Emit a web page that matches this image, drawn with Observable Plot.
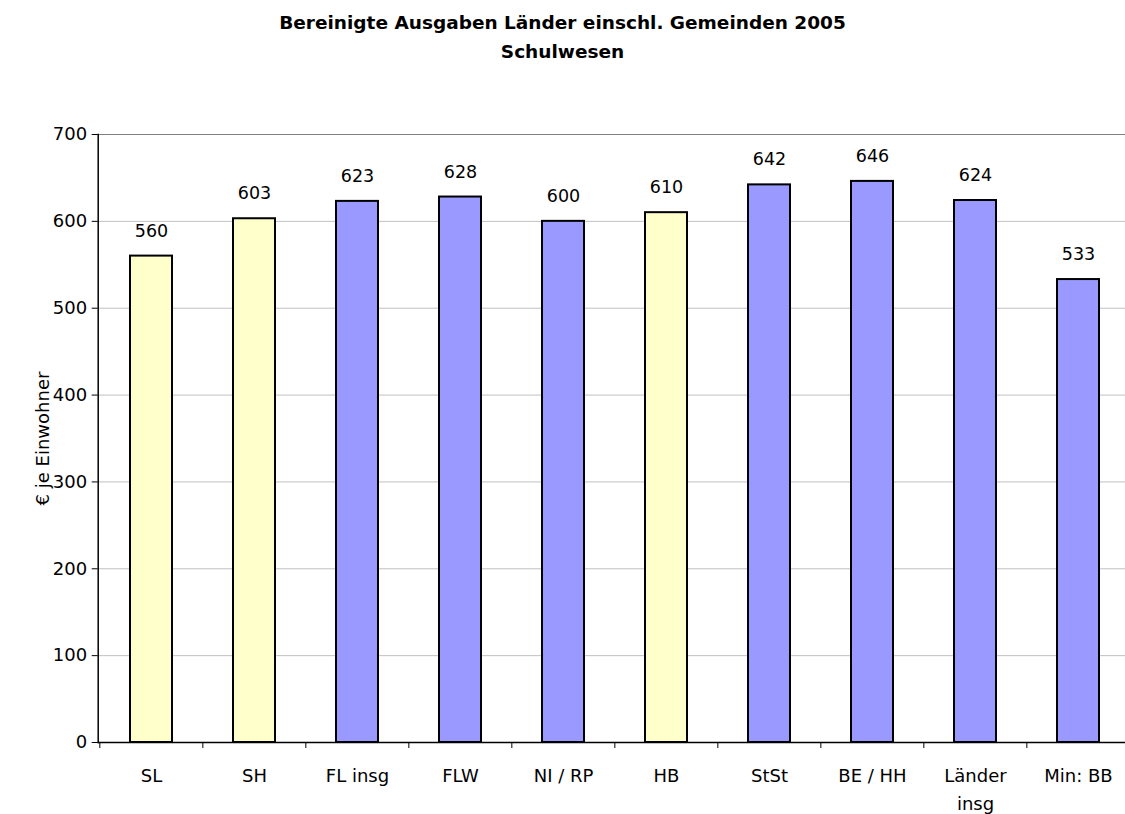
<!DOCTYPE html>
<html>
<head>
<meta charset="utf-8">
<script src="https://cdn.jsdelivr.net/npm/d3@7"></script>
<script src="https://cdn.jsdelivr.net/npm/@observablehq/plot@0.6"></script>
<style>
  html, body { margin: 0; padding: 0; background: #fff; overflow: hidden; }
  body { width: 1125px; height: 814px; font-family: "DejaVu Sans", sans-serif; }
  #title { height: 75px; padding-top: 8px; box-sizing: border-box; text-align: center; font-weight: bold; font-size: 18.5px; line-height: 29px; color: #000; }
  #chart svg { display: block; overflow: hidden; }
</style>
</head>
<body>
<div id="title">
  <div>Bereinigte Ausgaben Länder einschl. Gemeinden 2005</div>
  <div>Schulwesen</div>
</div>
<div id="chart"></div>
<script>
const categories = ["SL", "SH", "FL insg", "FLW", "NI / RP", "HB", "StSt", "BE / HH", "Länder insg", "Min: BB"];
const values = [560, 603, 623, 628, 600, 610, 642, 646, 624, 533];
const groups = ["gelb", "gelb", "blau", "blau", "blau", "gelb", "blau", "blau", "blau", "blau"];
const yTicks = [0, 100, 200, 300, 400, 500, 600, 700];
const tickLabels = {"Länder insg": "Länder\ninsg"};

const data = categories.map((c, i) => ({cat: c, value: values[i], group: groups[i]}));

const width = 1125, height = 739;
const left = 97.7, bandRight = 1131;
const band = (bandRight - left) / categories.length;

const chart = Plot.plot({
  width, height,
  marginLeft: left, marginRight: 0, marginTop: 59, marginBottom: 72,
  style: {fontFamily: "DejaVu Sans, sans-serif", fontSize: "18px", color: "#000", background: "#fff"},
  x: {domain: categories, range: [left, bandRight], paddingInner: 0.59, paddingOuter: 0.295, label: null},
  y: {domain: [0, 700], ticks: yTicks, label: null},
  color: {domain: ["gelb", "blau"], range: ["#ffffcc", "#9999ff"]},
  marks: [
    Plot.gridY(yTicks.filter(t => t > 0 && t < 700), {stroke: "#c0c0c0", strokeOpacity: 1}),
    Plot.ruleY([700], {stroke: "#808080"}),
    Plot.barY(data, {x: "cat", y: "value", fill: "group", stroke: "#000", strokeWidth: 2}),
    Plot.text(data, {x: "cat", y: "value", text: d => String(d.value), dy: -25, fontSize: 17.5, fill: "#000"}),
    Plot.ruleY([0], {stroke: "#000", strokeWidth: 1.5}),
    Plot.frame({anchor: "left", stroke: "#000", strokeWidth: 1.5}),
    Plot.axisY({ticks: yTicks, tickSize: 6, tickPadding: 5, fontSize: 18, label: "€ je Einwohner", labelArrow: "none", labelAnchor: "center", labelOffset: 62}),
    Plot.axisX({tickSize: 0, tickPadding: 20, fontSize: 18, lineHeight: 1.55, tickFormat: d => tickLabels[d] ?? d, label: null}),
    Plot.axisX({tickSize: 6, tickFormat: () => "", dx: -band / 2, label: null})
  ]
});
document.getElementById("chart").appendChild(chart);
</script>
</body>
</html>
